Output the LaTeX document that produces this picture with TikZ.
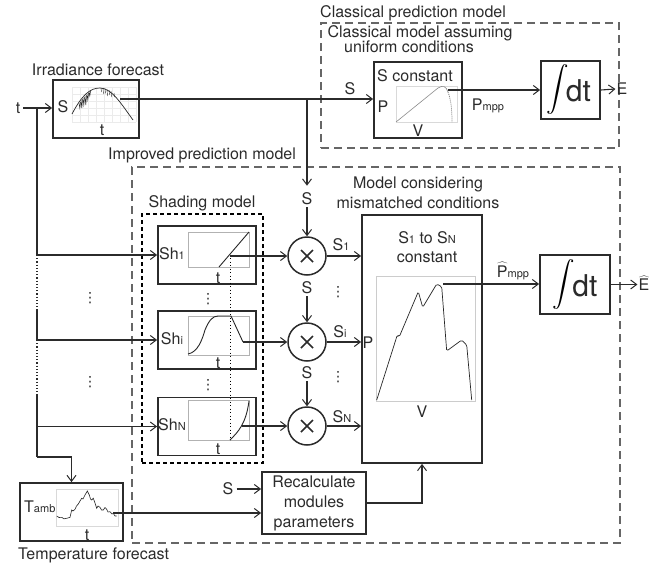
\documentclass[tikz,border=0pt]{standalone}
\usepackage{fontspec}
\usepackage{graphicx}
\setmainfont{TeX Gyre Heros}
\newfontfamily\djv{DejaVu Sans}
\usetikzlibrary{arrows.meta,calc}
\definecolor{dk}{HTML}{2B2B2B}
\newcommand\sbs[1]{{\fontsize{11}{11}\selectfont #1}}
\newcommand\bigint{\resizebox*{!}{50pt}{$\displaystyle\int$}}
\newcommand\vdt{{\djv\fontsize{14}{14}\selectfont ⋮}}
\begin{document}
\begin{tikzpicture}[x=1pt,y=-1pt,
  lbl/.style={font=\fontsize{16}{20}\selectfont, inner sep=0pt, text=dk},
  blk/.style={draw=dk, line width=1.8pt, fill=white, inner sep=0pt},
  con/.style={draw=dk, line width=1.1pt},
  arr/.style={con, -{Straight Barb[length=6pt,width=9pt,line width=1pt]}},
  frm/.style={draw=black!30, line width=0.6pt},
  crv/.style={draw=black!85, line width=0.9pt},
  outdash/.style={draw=black!60, line width=1.5pt, dash pattern=on 8pt off 5pt, inner sep=0pt},
  shdash/.style={draw=black, line width=1.4pt, dash pattern=on 4pt off 3pt, inner sep=0pt},
  mult/.style={circle, draw=dk, line width=1.5pt, minimum size=38pt, inner sep=0pt},
  cross/.style={draw=dk, line width=1.6pt},
  dotl/.style={draw=dk, line width=1.1pt, dash pattern=on 1.2pt off 2pt},
  intd/.style={font=\fontsize{30}{30}\selectfont, inner sep=0pt, text=dk},
  dts/.style={inner sep=0pt, text=dk},
]
\useasboundingbox (0,0) rectangle (658,565);

% ---------- containers ----------
\node[outdash, minimum width=298pt, minimum height=125pt] (cls) at (470,85.5) {};
\node[outdash, minimum width=488pt, minimum height=376pt] (imp) at (376,355) {};
\node[shdash, minimum width=121pt, minimum height=249pt] (shm) at (202.5,338.5) {};

\node[lbl, anchor=west] (clsT) at (320,13) {Classical prediction model};
\node[lbl] (clsA) at (420,33) {Classical model assuming};
\node[lbl] (clsB) at (409,47) {uniform conditions};
\node[lbl] (impT) at (202,155) {Improved prediction model};
\node[lbl] (shT) at (202,203) {Shading model};
\node[lbl, align=center] (mmT) at (418,193) {Model considering\\mismatched conditions};

% ---------- irradiance forecast ----------
\node[blk, minimum width=86pt, minimum height=58pt] (irr) at (96,109) {};
\node[lbl] (irrT) at (98,70) {Irradiance forecast};
\node[lbl] (irrS) at (63,107) {S};
\node[lbl] (irrt) at (102,130) {t};
\foreach \gx in {72,80,88,96,104,112,120,128,136} \draw[black!8, line width=0.4pt] (\gx,87) -- (\gx,122);
\foreach \gy in {87,94,101,108,115,122} \draw[black!8, line width=0.4pt] (72,\gy) -- (136,\gy);
\draw[crv, line width=0.7pt] (72,114) .. controls (82,95) and (90,88) .. (100,88) .. controls (112,88) and (122,105) .. (133,120);
\foreach \sx/\sy/\sd in {79/103/5, 81/100/8, 83/98/7, 85/96/9, 87/94/6, 89/92/4}
  \draw[crv, line width=0.5pt] (\sx,\sy) -- (\sx+0.8,\sy+\sd) -- (\sx+1.6,\sy-1);
\foreach \sx/\sy/\sd in {101/88/4, 103/88/6, 105/88.5/5, 107/89/7, 109/90/5, 111/91/6, 114/93/4}
  \draw[crv, line width=0.4pt] (\sx,\sy) -- (\sx+0.5,\sy+\sd);

\node[lbl] (tin) at (18,108) {t};
\coordinate (j0) at (37,108);
\draw[arr] ($(tin.east)+(3,0)$) -- (tin.east -| irr.west);

% ---------- classical model ----------
\node[blk, minimum width=88pt, minimum height=76pt] (sc) at (418,100) {};
\node[lbl] (scT) at (415,76) {S constant};
\node[lbl] (scP) at (383,107) {P};
\node[lbl] (scV) at (418,131) {V};
\draw[frm, black!15] (396,86) rectangle (457,122);
\draw[black!45, line width=0.6pt] (396,122) -- (438,88) .. controls (443,85) and (446,86) .. (448,92);
\draw[black!55, line width=0.7pt, dash pattern=on 1pt off 1pt] (448,92) .. controls (451,100) and (452,110) .. (452,122);

\coordinate (irrO) at (120,99);
\draw[arr] (irrO) -- (irrO -| sc.west);
\node[lbl] (sS) at (350,89) {S};

\node[blk, minimum width=59pt, minimum height=58pt] (int1) at (570.5,90) {};
\node[inner sep=0pt] (int1s) at ($(int1)+(-13,0)$) {\bigint};
\node[intd] (int1d) at ($(int1)+(8,1)$) {dt};
\coordinate (mppA) at (448,90);
\draw[arr] (mppA) -- (mppA -| int1.west);
\node[lbl] (pmpp) at (488,106) {P\sbs{mpp}};
\node[lbl] (E) at (622,89) {E};
\draw[arr] (int1.east) -- ($(E.west)+(-1,0)$);

% ---------- S branches and multipliers ----------
\coordinate (jS) at (307,99);
\node[lbl] (s1) at (307,199) {S};
\node[lbl] (si) at (307,288) {S};
\node[lbl] (sN) at (307,373) {S};
\node[mult] (m1) at (307,256) {};
\node[mult] (mi) at (307,342) {};
\node[mult] (mN) at (307,426) {};
\foreach \mm in {m1,mi,mN} {
  \draw[cross] ($(\mm)+(-6,-6)$) -- ($(\mm)+(6,6)$);
  \draw[cross] ($(\mm)+(-6,6)$) -- ($(\mm)+(6,-6)$);
}
\draw[arr] (jS) -- ($(s1.north)+(0,-7)$);
\draw[arr] ($(s1.south)+(0,2)$) -- (m1.north);
\draw[arr] ($(si.south)+(0,2)$) -- (mi.north);
\draw[arr] ($(sN.south)+(0,2)$) -- (mN.north);
\node[dts] (d1) at (338,292) {\vdt};
\node[dts] (d2) at (338,377) {\vdt};

% ---------- shading model boxes ----------
\node[blk, minimum width=98pt, minimum height=58pt] (sh1) at (207,255) {};
\node[blk, minimum width=98pt, minimum height=58pt] (shi) at (207,340) {};
\node[blk, minimum width=98pt, minimum height=58pt] (shN) at (207,426.5) {};
\node[lbl] (sh1L) at (172,254) {Sh\sbs{1}};
\node[lbl] (shiL) at (172,339) {Sh\sbs{i}};
\node[lbl] (shNL) at (172,425) {Sh\sbs{N}};
\node[lbl] (sh1t) at (218,278) {t};
\node[lbl] (shit) at (218,363) {t};
\node[lbl] (shNt) at (218,449) {t};
\draw[frm] (188,232) rectangle (249,267);
\draw[frm] (188,316) rectangle (249,355);
\draw[frm] (188,400) rectangle (249,440);
\draw[crv] (219,267) -- (249,232);
\draw[crv] (188,354) .. controls (198,352) and (202,340) .. (205,330) .. controls (209,320) and (213,316) .. (218,316) -- (231,316) -- (243,342);
\draw[crv] (230,440) .. controls (238,432) and (246,424) .. (249,401);
\draw[black, line width=1pt, dash pattern=on 1.3pt off 2.2pt] (230,258) -- (230,440);
\node[dts] (d3) at (208,299) {\vdt};
\node[dts] (d4) at (208,385) {\vdt};

\coordinate (o1) at (230,256);
\coordinate (oi) at (243,342);
\coordinate (oN) at (241.5,426);
\draw[arr] (o1) -- (m1.west);
\draw[arr] (oi) -- (mi.west);
\draw[arr] (oN) -- (mN.west);

% ---------- t distribution line ----------
\coordinate (c1) at (37,310);
\coordinate (c2) at (37,395);
\coordinate (c3) at (37,457);
\draw[con] (j0) -- (j0 |- sh1.west);
\draw[arr] (j0 |- sh1.west) -- (sh1.west);
\draw[dotl] (j0 |- sh1.west) -- (c1);
\draw[con] (c1) -- (j0 |- shi.west);
\draw[arr] (j0 |- shi.west) -- (shi.west);
\draw[dotl] (j0 |- shi.west) -- (c2);
\draw[con] (c2) -- (j0 |- shN.west);
\draw[arr] (j0 |- shN.west) -- (shN.west);
\node[dts] (d5) at (90,298) {\vdt};
\node[dts] (d6) at (90,382) {\vdt};

% ---------- mismatch model ----------
\node[blk, minimum width=120pt, minimum height=248pt] (mm) at (422,339) {};
\node[lbl, align=center, font=\fontsize{16}{19}\selectfont] (mmS) at (427,247) {S\sbs{1} to S\sbs{N}\\constant};
\node[lbl] (mmP) at (368,343) {P};
\node[lbl] (mmV) at (422,412) {V};
\draw[frm, black!20] (376,276) rectangle (475,401);
\draw[crv, line width=0.7pt, rounded corners=1.5pt] (376.7,400) -- (397.3,335) -- (399.3,336.7) -- (418.3,291.7) -- (422.7,307.3) -- (436.7,284) -- (441.7,286.7) -- (446.7,351) -- (461.7,340) -- (466.7,345) -- (471.7,400);
\draw[arr] (m1.east) -- (m1.east -| mm.west);
\draw[arr] (mi.east) -- (mi.east -| mm.west);
\draw[arr] (mN.east) -- (mN.east -| mm.west);
\node[lbl] (S1L) at (341,245) {S\sbs{1}};
\node[lbl] (SiL) at (340,332) {S\sbs{i}};
\node[lbl] (SNL) at (342,417) {S\sbs{N}};

\node[blk, minimum width=70pt, minimum height=59pt] (int2) at (575,284.5) {};
\node[inner sep=0pt] (int2s) at ($(int2)+(-11,0)$) {\bigint};
\node[intd] (int2d) at ($(int2)+(10,1)$) {dt};
\coordinate (mmO) at (443,284);
\draw[arr] (mmO) -- (mmO -| int2.west);
\node[lbl] (pmpph) at (513,271) {$\widehat{\mbox{P}}$\sbs{mpp}};
\node[lbl] (Eh) at (644,283) {$\widehat{\mbox{E}}$};
\draw[arr] (int2.east) -- ($(int2.east -| Eh.west)+(-1,0)$);

% ---------- temperature and recalculation ----------
\node[blk, minimum width=103pt, minimum height=58pt] (tp) at (71.5,512) {};
\node[lbl, anchor=west] (tpT) at (24,507) {T\sbs{amb}};
\node[lbl] (tpt) at (87,535) {t};
\node[lbl, anchor=west] (tpF) at (18,555) {Temperature forecast};
\draw[frm, black!15] (56,489) rectangle (118,526);
\draw[crv, line width=0.6pt] (56.7,516) -- (59,517.5) -- (61.7,517.3) -- (64,518.8) -- (66.7,518.3) -- (70,517.3) -- (71.7,510) -- (73,511) -- (75,509.3) -- (76.5,506) -- (78.3,504) -- (80,501) -- (81.7,498.3) -- (83,499) -- (85,495) -- (87.3,491) -- (89.3,495) -- (90.5,499) -- (91.7,500) -- (93.3,498.3) -- (95,503) -- (96.7,508.3) -- (98,506) -- (100,507.3) -- (101.5,510) -- (103.3,510) -- (105,507.5) -- (106.7,509.3) -- (108,512) -- (110,511.7) -- (112,514) -- (113.3,513.3) -- (115,516) -- (116.7,516);
\draw[con] (c3) -- (c3 -| tp.north);
\draw[con] (j0 |- shN.west) -- (c3);
\draw[arr] (c3 -| tp.north) -- (tp.north);

\node[blk, minimum width=104pt, minimum height=62pt, align=center, font=\fontsize{16}{20}\selectfont, text=dk] (rc) at (314,503) {Recalculate\\modules\\parameters};
\node[lbl] (sr) at (228,489) {S};
\draw[arr] ($(sr.east)+(3,0)$) -- (sr.east -| rc.west);
\coordinate (tpO) at (113,513);
\draw[arr] (tpO) -- (tpO -| rc.west);
\draw[arr] (rc.east) -| (mm.south);
\end{tikzpicture}
\end{document}
